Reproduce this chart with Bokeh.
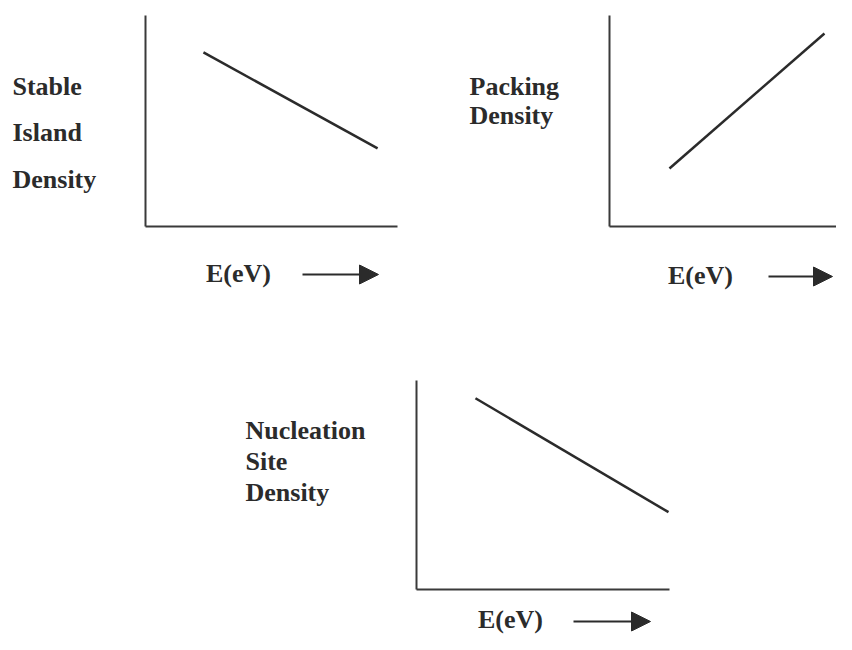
from bokeh.plotting import figure
from bokeh.models import Range1d, FixedTicker, Arrow, NormalHead, Spacer
from bokeh.layouts import column, row
from bokeh.core.properties import value
from bokeh.embed import file_html
from bokeh.resources import INLINE

# ---------------- data ----------------
x_label = "E(eV)"
AXIS_MAX = 10

stable_labels = ["Stable", "Island", "Density"]
stable_energy = [2.30, 9.21]
stable_density = [8.25, 3.70]

packing_labels = ["Packing", "Density"]
packing_energy = [2.38, 8.53]
packing_density = [2.75, 9.15]

nucleation_labels = ["Nucleation", "Site", "Density"]
nucleation_energy = [2.33, 9.96]
nucleation_density = [9.15, 3.70]

# ---------------- style ----------------
INK = "#2b2b2b"
AXIS_INK = "#3a3a3a"
FONT = value("Liberation Serif")
FSIZE = "26px"


def make_panel(xs, ys, labels, fig_box, origin, axis_len, label_x, label_baselines,
               xlabel_center, arrow_span):
    fl, ft, fw, fh = fig_box            # figure box in picture pixels
    ox, oy = origin                     # axis origin in picture pixels
    axw, axh = axis_len                 # axis lengths in pixels
    sx = axw / AXIS_MAX
    sy = axh / AXIS_MAX

    def dx(px):
        return (px - ox) / sx

    def dy(py):
        return (oy - py) / sy

    p = figure(width=fw, height=fh,
               x_range=Range1d(dx(fl), dx(fl + fw)),
               y_range=Range1d(dy(ft + fh), dy(ft)),
               output_backend="svg", toolbar_location=None, min_border=0)
    p.outline_line_color = None
    p.grid.visible = False
    p.background_fill_color = "white"
    p.border_fill_color = "white"

    for ax in (p.xaxis, p.yaxis):
        ax.fixed_location = 0
        ax.bounds = (0, AXIS_MAX)
        ax.ticker = FixedTicker(ticks=[])
        ax.major_tick_line_color = None
        ax.minor_tick_line_color = None
        ax.major_label_text_font_size = "0px"
        ax.axis_line_width = 2
        ax.axis_line_color = AXIS_INK

    p.line(xs, ys, line_width=2.5, line_color=INK)

    p.text(x=[dx(label_x)] * len(labels), y=[dy(b) for b in label_baselines],
           text=labels, text_font=FONT, text_font_style="bold",
           text_font_size=FSIZE, text_color=INK,
           text_align="left", text_baseline="alphabetic")

    cx, cy = xlabel_center
    p.text(x=[dx(cx)], y=[dy(cy)], text=[x_label], text_font=FONT,
           text_font_style="bold", text_font_size=FSIZE, text_color=INK,
           text_align="center", text_baseline="middle")

    a0, a1, ay = arrow_span
    p.add_layout(Arrow(end=NormalHead(size=19, fill_color=INK, line_color=INK),
                       x_start=dx(a0), y_start=dy(ay), x_end=dx(a1), y_end=dy(ay),
                       line_width=2, line_color=INK))
    return p


p1 = make_panel(stable_energy, stable_density, stable_labels,
                fig_box=(0, 0, 414, 312), origin=(145, 226), axis_len=(252, 211),
                label_x=12, label_baselines=[86, 132, 179],
                xlabel_center=(238, 273), arrow_span=(302, 378, 274))

p2 = make_panel(packing_energy, packing_density, packing_labels,
                fig_box=(414, 0, 422, 312), origin=(609, 226), axis_len=(252, 211),
                label_x=469, label_baselines=[86, 115],
                xlabel_center=(700, 275), arrow_span=(768, 832, 276))

p3 = make_panel(nucleation_energy, nucleation_density, nucleation_labels,
                fig_box=(228, 312, 472, 322), origin=(416, 589), axis_len=(253, 209),
                label_x=245, label_baselines=[430, 461, 492],
                xlabel_center=(510, 619), arrow_span=(573, 650, 621))

layout = column(row(p1, p2), row(Spacer(width=228, height=322), p3))

open("out.html", "w").write(file_html(layout, INLINE))
